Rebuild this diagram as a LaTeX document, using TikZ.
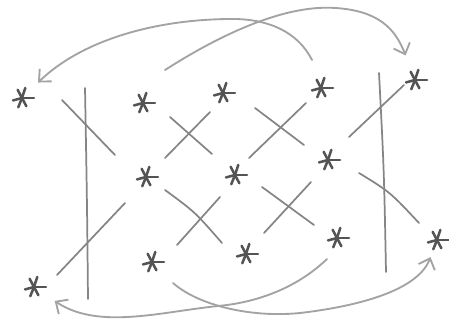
\documentclass[tikz,border=0pt]{standalone}
\usepackage{tikz}
\usetikzlibrary{arrows.meta}
\definecolor{lead}{gray}{0.33}
\definecolor{leadsoft}{gray}{0.52}
\definecolor{leadpale}{gray}{0.64}
\tikzset{
  spark/.style={circle, inner sep=0pt, minimum size=21pt, path picture={
      \foreach \a/\l in {0/9pt,72/8pt,118/7pt,195/7pt,248/7.5pt,298/7pt}
        \draw[lead, line width=1.9pt, line cap=round] (path picture bounding box.center) -- ++(\a:\l);}},
  stroke/.style={leadsoft, line width=1.3pt, line cap=round},
  sweep/.style={leadpale, line width=1.4pt, line cap=round},
}
\begin{document}
\begin{tikzpicture}[x=0.75pt, y=-0.75pt, >={Straight Barb[length=7pt, width=13pt]}]
    \useasboundingbox (0,0) rectangle (449,329);
    \node[spark] (s1) at (22,98) {};
    \node[spark] (s2) at (143,103) {};
    \node[spark] (s3) at (223,93) {};
    \node[spark] (s4) at (321,88) {};
    \node[spark] (s5) at (415,80) {};
    \node[spark] (s6) at (146,177) {};
    \node[spark] (s7) at (235,175) {};
    \node[spark] (s8) at (328,160) {};
    \node[spark] (s9) at (152,262) {};
    \node[spark] (s10) at (246,254) {};
    \node[spark] (s11) at (337,238) {};
    \node[spark] (s12) at (437,240) {};
    \node[spark] (s13) at (34,287) {};
    \coordinate (a4) at (312,60);
    \coordinate (b2) at (165,70);
    \coordinate (c9) at (173,283);
    \coordinate (d11) at (327,259);
    \draw[stroke] (85,88) .. controls (87,200) .. (88,299);
    \draw[stroke] (379,73) .. controls (384,170) .. (386,272);
    \draw[stroke] (62,100) -- (115,155);
    \draw[stroke] (57,275) -- (125,203);
    \draw[stroke] (170,117) -- (212,154);
    \draw[stroke] (165,158) -- (210,112);
    \draw[stroke] (255,108) -- (304,145);
    \draw[stroke] (249,158) -- (306,103);
    \draw[stroke] (349,137) -- (404,85);
    \draw[stroke] (165,190) .. controls (195,212) .. (222,243);
    \draw[stroke] (177,245) -- (220,197);
    \draw[stroke] (262,187) -- (314,225);
    \draw[stroke] (264,233) -- (311,182);
    \draw[stroke] (359,173) .. controls (390,192) .. (419,223);
    \draw[sweep, ->, shorten >=6pt] (a4) .. controls (298,32) and (268,18) .. (228,19) .. controls (150,20) and (80,42) .. (s1);
    \draw[sweep, ->, shorten >=9pt] (b2) .. controls (215,38) and (282,4) .. (336,8) .. controls (378,11) and (395,28) .. (s5);
    \draw[sweep, ->, shorten >=3pt] (c9) .. controls (198,305) and (250,318) .. (300,313) .. controls (360,306) and (418,290) .. (s12);
    \draw[sweep, ->, shorten >=8pt] (d11) .. controls (300,285) and (262,302) .. (218,306) .. controls (160,312) and (98,330) .. (s13);
\end{tikzpicture}
\end{document}
